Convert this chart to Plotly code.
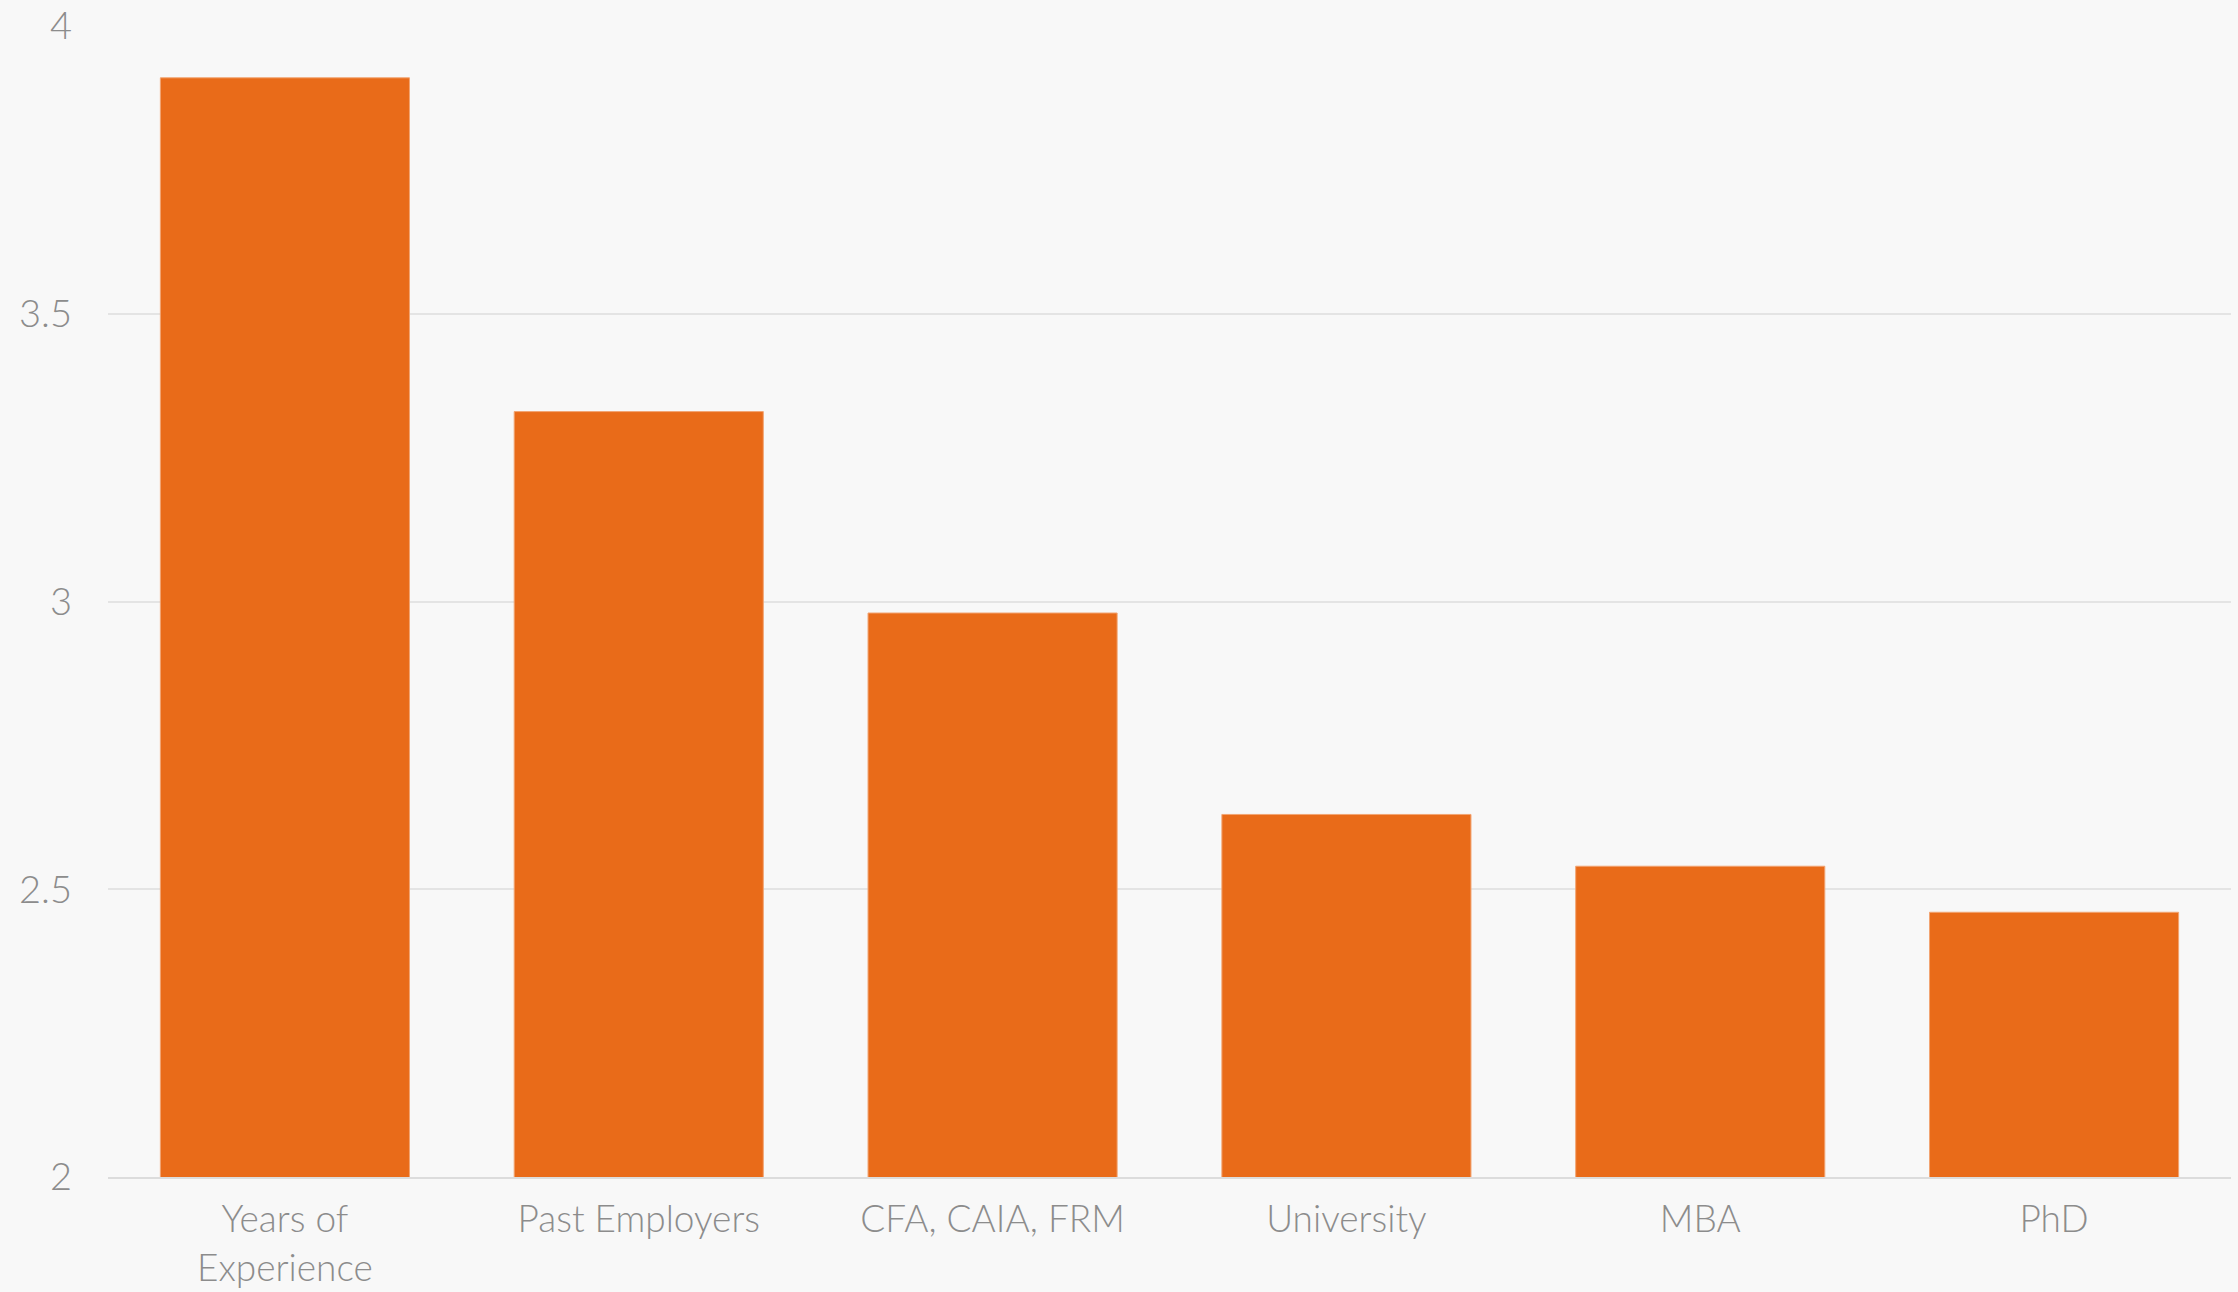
import plotly.graph_objects as go

# Average importance rating per hiring criterion
categories = ["Years of<br>Experience", "Past Employers", "CFA, CAIA, FRM",
              "University", "MBA", "PhD"]
ratings = [3.91, 3.33, 2.98, 2.63, 2.54, 2.46]
y_ticks = [2, 2.5, 3, 3.5, 4]
y_tick_labels = ["2", "2.5", "3", "3.5", "4"]

BAR_COLOR = "#e96b19"
TEXT_COLOR = "#8c8c8c"
GRID_COLOR = "#e4e4e4"
BG_COLOR = "#f8f8f8"
FONT = "Century Gothic, Lato, sans-serif"

fig = go.Figure(
    go.Bar(
        x=categories,
        y=ratings,
        marker=dict(color=BAR_COLOR, line=dict(color="#f2a472", width=1)),
        hoverinfo="x+y",
    )
)

fig.update_layout(
    width=2238,
    height=1292,
    margin=dict(l=108, r=7, t=26, b=115),
    paper_bgcolor=BG_COLOR,
    plot_bgcolor=BG_COLOR,
    bargap=0.296,
    showlegend=False,
    font=dict(family=FONT, size=37, color=TEXT_COLOR, weight=300),
)

fig.update_xaxes(
    automargin=False,
    showgrid=False,
    showline=True,
    linecolor="#dcdcdc",
    linewidth=2,
    ticks="",
    ticklabelstandoff=9,
    tickfont=dict(family=FONT, size=37, color=TEXT_COLOR, weight=300),
)

fig.update_yaxes(
    automargin=False,
    range=[2, 4],
    tickvals=y_ticks,
    ticktext=y_tick_labels,
    showgrid=True,
    gridcolor=GRID_COLOR,
    gridwidth=2,
    zeroline=False,
    showline=False,
    ticks="",
    ticklabelstandoff=35,
    tickfont=dict(family=FONT, size=38, color=TEXT_COLOR, weight=300),
)

fig.write_html("out.html")
